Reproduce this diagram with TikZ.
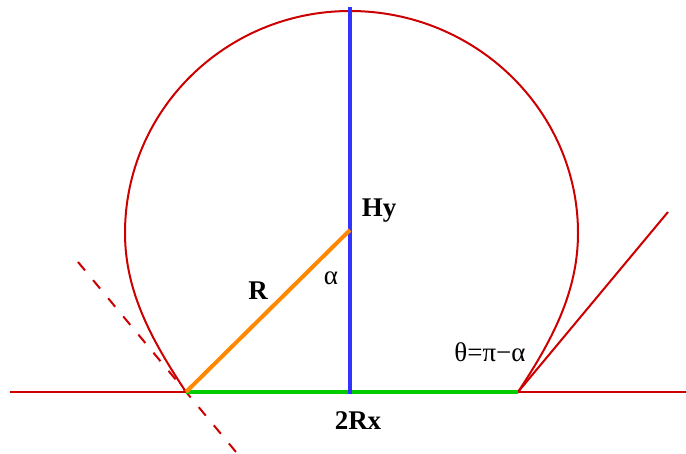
\documentclass[tikz,border=0pt]{standalone}
\usepackage{fontspec}
\setmainfont{Liberation Serif}
\definecolor{cred}{RGB}{204,0,0}
\definecolor{cblue}{RGB}{51,51,255}
\definecolor{corange}{RGB}{255,136,0}
\definecolor{cgreen}{RGB}{0,204,0}
\begin{document}
\begin{tikzpicture}[x=1pt,y=-1pt,
  redline/.style={draw=cred, line width=2pt},
  thickline/.style={line width=4.5pt},
  lbl/.style={inner sep=0pt, anchor=base, font=\fontsize{27}{30}\selectfont\bfseries},
  glbl/.style={inner sep=0pt, anchor=base, font=\fontsize{27}{30}\selectfont}]
\useasboundingbox (0,0) rectangle (686,454);
\coordinate (A) at (186,392);
\coordinate (B) at (518,392);
\coordinate (C) at (350,230);
\coordinate (T) at (350,7);
\coordinate (D) at (350,394);
\coordinate (L0) at (10,392);
\coordinate (R0) at (686,392);
\coordinate (P1) at (78,262);
\coordinate (P2) at (236,452);
\coordinate (Q) at (668,212);
\coordinate (Lx) at (125,233);
\coordinate (Tp) at (350,11);
\coordinate (Rx) at (578,233);
% base line
\draw[redline] (L0) -- (R0);
% drop contour
\draw[redline] (A) .. controls (153,342) and (125,293) .. (Lx)
  .. controls (125,110) and (226,11) .. (Tp)
  .. controls (476,11) and (578,111) .. (Rx)
  .. controls (578,293) and (551,342) .. (B);
% tangent lines
\draw[redline, dash pattern=on 11pt off 12.6pt] (P1) -- (P2);
\draw[redline] (B) -- (Q);
% green, blue, orange
\draw[thickline, draw=cgreen] (A) -- (B);
\draw[thickline, draw=cblue] (T) -- (D);
\draw[thickline, draw=corange, line width=4pt] (A) -- (C);
% labels
\node[lbl] (hy) at (379,217) {Hy};
\node[lbl] (r) at (258,300) {R};
\node[glbl] (al) at (331,285) {α};
\node[glbl] (th) at (490,362) {θ=π−α};
\node[lbl] (rx) at (358,430) {2Rx};
\end{tikzpicture}
\end{document}
